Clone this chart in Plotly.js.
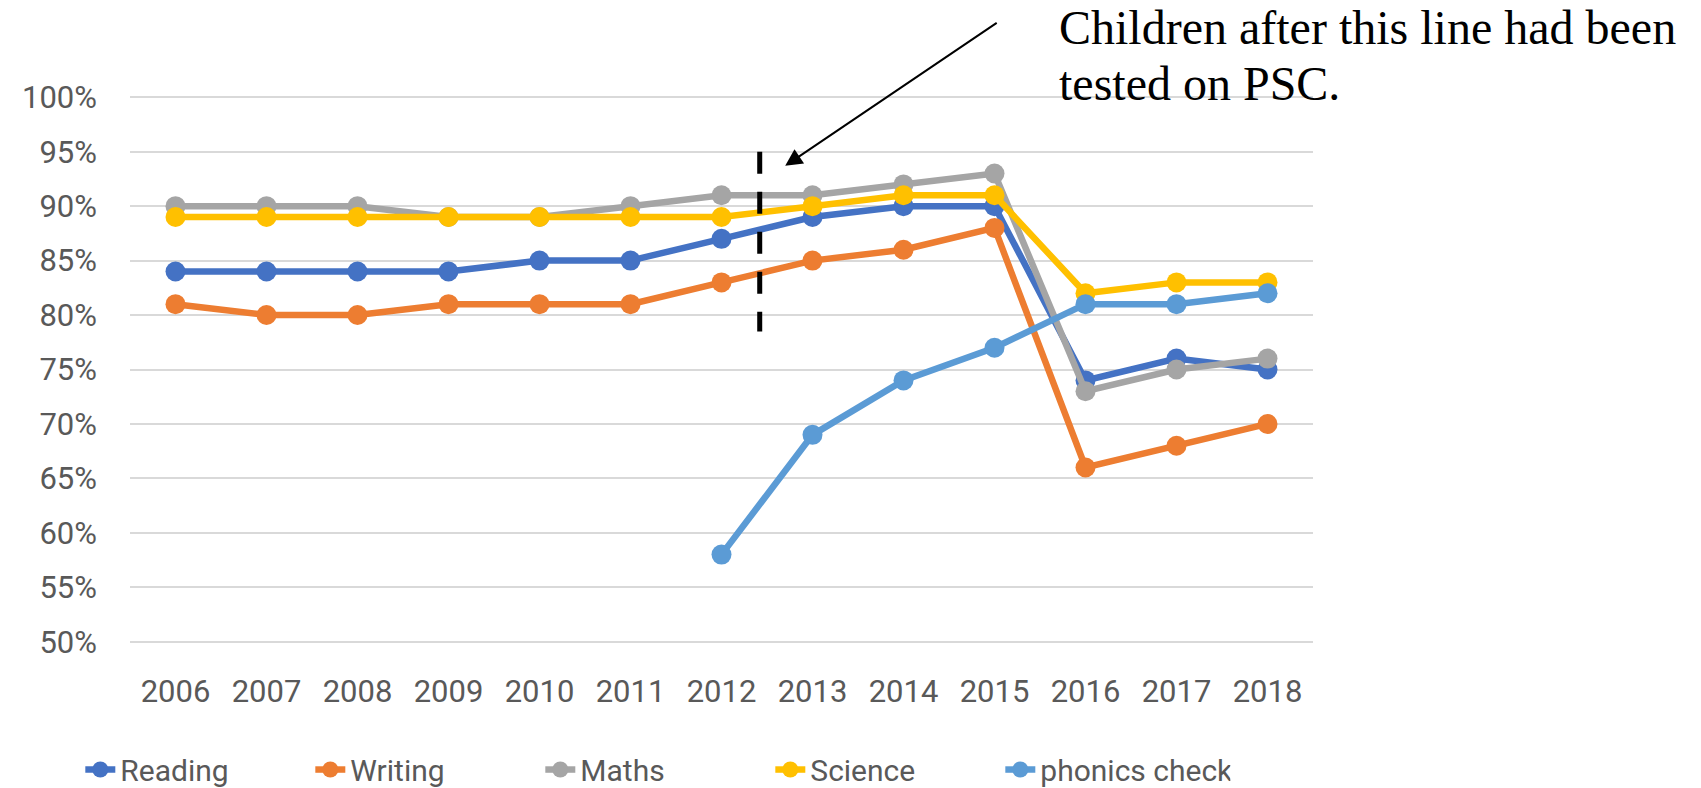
<!DOCTYPE html>
<html>
<head>
<meta charset="utf-8">
<script src="https://cdn.plot.ly/plotly-3.0.1.min.js"></script>
<style>html,body{margin:0;padding:0;background:#fff}#chart{width:1701px;height:788px}</style>
</head>
<body>
<div id="chart"></div>
<script>
var years = ['2006','2007','2008','2009','2010','2011','2012','2013','2014','2015','2016','2017','2018'];
var reading = [84,84,84,84,85,85,87,89,90,90,74,76,75];
var writing = [81,80,80,81,81,81,83,85,86,88,66,68,70];
var maths   = [90,90,90,89,89,90,91,91,92,93,73,75,76];
var science = [89,89,89,89,89,89,89,90,91,91,82,83,83];
var phonics = [null,null,null,null,null,null,58,69,74,77,81,81,82];
var seriesNames = ['Reading','Writing','Maths','Science','phonics check'];
var yTicks = [50,55,60,65,70,75,80,85,90,95,100];
var noteLine1 = 'Children after this line had been';
var noteLine2 = 'tested on PSC.';

var colors = ['#4472C4','#ED7D31','#A5A5A5','#FFC000','#5B9BD5'];
var allSeries = [reading, writing, maths, science, phonics];
var font = 'Roboto, "Open Sans", sans-serif';

var traces = allSeries.map(function(vals, i){
  return {
    x: years, y: vals, name: seriesNames[i], type: 'scatter', mode: 'lines+markers',
    line: {color: colors[i], width: 6.5},
    marker: {color: colors[i], size: 20},
    connectgaps: false, hoverinfo: 'x+y+name'
  };
});

var layout = {
  width: 1701, height: 788,
  paper_bgcolor: '#ffffff', plot_bgcolor: '#ffffff',
  margin: {l: 130, r: 388, t: 94, b: 143, autoexpand: false},
  showlegend: true,
  legend: {orientation: 'h', x: -0.042, xanchor: 'left', y: -0.226, yanchor: 'middle',
           font: {family: font, size: 30, color: '#595959'}, entrywidth: 185, tracegroupgap: 0},
  xaxis: {type: 'category', range: [-0.5, 12.5], showgrid: false, zeroline: false, showline: false,
          ticks: '', ticklabelstandoff: 25, tickfont: {family: font, size: 31, color: '#595959'}},
  yaxis: {range: [49.7, 100.3], tickvals: yTicks, ticktext: yTicks.map(function(v){return v + '%';}),
          showgrid: true, gridcolor: '#D9D9D9', gridwidth: 2, zeroline: false, showline: false,
          ticks: '', ticklabelstandoff: 32, tickfont: {family: font, size: 31, color: '#595959'}},
  shapes: [{type: 'line', xref: 'x', yref: 'y', x0: 6.42, x1: 6.42, y0: 95, y1: 78.5,
            line: {color: '#000000', width: 5, dash: '22px,18px'}}],
  annotations: [
    {xref: 'x', yref: 'y', x: 6.7, y: 93.7, ax: 213, ay: -144, axref: 'pixel', ayref: 'pixel',
     text: '', showarrow: true, arrowhead: 2, arrowsize: 1.7, arrowwidth: 2, arrowcolor: '#000000'},
    {xref: 'paper', yref: 'paper', x: 0.784, y: 1.12, xanchor: 'left', yanchor: 'middle',
     text: noteLine1, showarrow: false, align: 'left',
     font: {family: '"Liberation Serif", "Times New Roman", serif', size: 48, color: '#000000'}},
    {xref: 'paper', yref: 'paper', x: 0.784, y: 1.019, xanchor: 'left', yanchor: 'middle',
     text: noteLine2, showarrow: false, align: 'left',
     font: {family: '"Liberation Serif", "Times New Roman", serif', size: 48, color: '#000000'}}
  ]
};

Plotly.newPlot('chart', traces, layout, {displayModeBar: false});
</script>
</body>
</html>
